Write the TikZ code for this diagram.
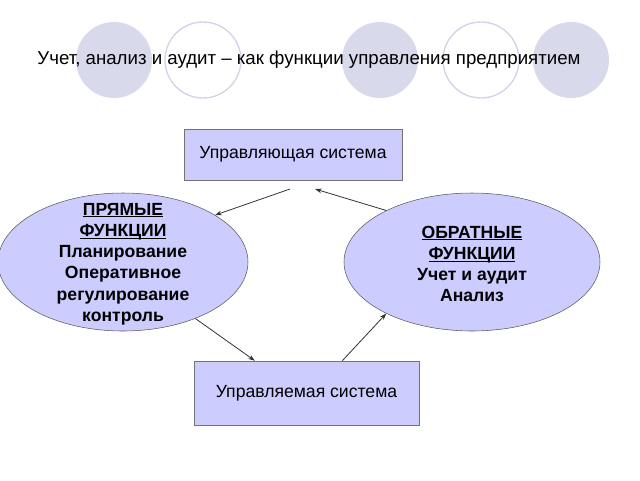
\documentclass[tikz,border=0pt]{standalone}
\usepackage{fontspec}
\setmainfont{Liberation Sans}
\usetikzlibrary{shapes.geometric,arrows.meta}
\definecolor{boxfill}{HTML}{CCCCFF}
\definecolor{dotfill}{HTML}{D9D9EC}
\definecolor{dotline}{HTML}{D2D2E8}
\newcommand\funcul[1]{\setbox0\hbox{#1}\rlap{\rule[-1.6pt]{\wd0}{0.7pt}}\box0}
\begin{document}
\begin{tikzpicture}[x=0.75pt,y=-0.75pt,
    dot/.style={circle,minimum size=57pt,inner sep=0pt},
    sysbox/.style={draw=black!55,fill=boxfill,inner sep=0pt,font=\fontsize{13.2}{15}\selectfont},
    func/.style={ellipse,draw=black!65,fill=boxfill,inner sep=0pt,minimum height=103.5pt},
    functext/.style={align=center,font=\fontsize{13.2}{15.9}\selectfont\bfseries},
    link/.style={draw=black!80,line width=0.6pt,-{Stealth[length=5pt,width=3.5pt]}}]
  \useasboundingbox (0,0) rectangle (640,480);
  % title with the circles behind it
  \node[dot,fill=dotfill] (dot1) at (114,60) {};
  \node[dot,draw=dotline,line width=1pt] (dot2) at (203,60) {};
  \node[dot,fill=dotfill] (dot3) at (380,60) {};
  \node[dot,draw=dotline,line width=1pt] (dot4) at (481,60) {};
  \node[dot,fill=dotfill] (dot5) at (571,60) {};
  \node[font=\fontsize{14}{16}\selectfont] (title) at (309,60) {Учет, анализ и аудит -- как функции управления предприятием};
  % systems
  \node[sysbox,minimum width=163.5pt,minimum height=38.25pt] (ctrl) at (293,154.5) {Управляющая система};
  \node[sysbox,minimum width=168.75pt,minimum height=48pt] (obj) at (306.5,393) {Управляемая система};
  % functions
  \node[func,minimum width=187.5pt] (direct) at (123,262) {};
  \node[functext] (directtext) at (123,264) {\funcul{ПРЯМЫЕ}\\\funcul{ФУНКЦИИ}\\Планирование\\Оперативное\\регулирование\\контроль};
  \node[func,minimum width=192pt] (feedback) at (472,262) {};
  \node[functext] (feedbacktext) at (472,264) {\funcul{ОБРАТНЫЕ}\\\funcul{ФУНКЦИИ}\\Учет и аудит\\Анализ};
  % connectors
  \coordinate (outA) at (290,189);
  \coordinate (inB) at (315,189);
  \draw[link] (outA) -- (direct.27);
  \draw[link] (feedback.149) -- (inB);
  \draw[link] (direct.-38) -- (obj.148.6);
  \draw[link] (obj.42.8) -- (feedback.211);
\end{tikzpicture}
\end{document}
